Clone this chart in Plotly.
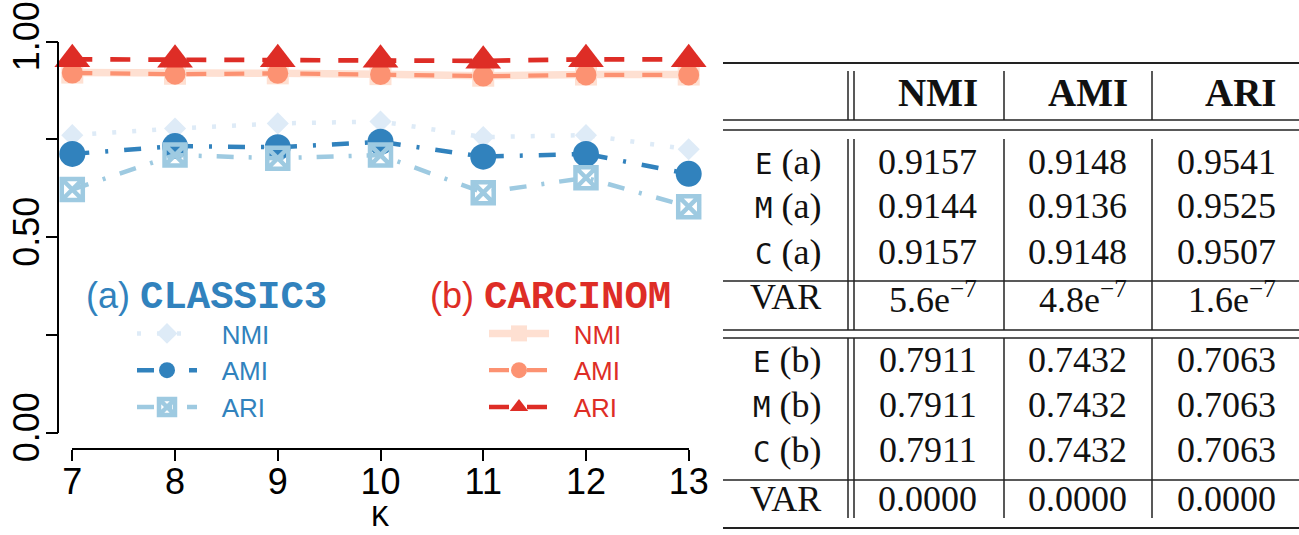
import plotly.graph_objects as go

# ---- data -------------------------------------------------------------
K = [7, 8, 9, 10, 11, 12, 13]

classic3_nmi = [0.761, 0.778, 0.791, 0.796, 0.756, 0.761, 0.725]
classic3_ami = [0.713, 0.733, 0.730, 0.744, 0.706, 0.713, 0.662]
classic3_ari = [0.622, 0.710, 0.702, 0.710, 0.614, 0.652, 0.578]

carcinom_nmi = [0.921, 0.918, 0.919, 0.917, 0.913, 0.916, 0.916]
carcinom_ami = [0.920, 0.917, 0.919, 0.916, 0.912, 0.915, 0.915]
carcinom_ari = [0.955, 0.954, 0.955, 0.954, 0.951, 0.955, 0.955]

y_tickvals = [0, 0.25, 0.5, 0.75, 1.0]
y_ticktext = ["0.00", " ", "0.50", " ", "1.00"]

table_header = ["NMI", "AMI", "ARI"]
table_row_method = ["E", "M", "C", "VAR", "E", "M", "C", "VAR"]
table_row_set = ["a", "a", "a", None, "b", "b", "b", None]
table_nmi = ["0.9157", "0.9144", "0.9157", "5.6e<sup>−7</sup>",
             "0.7911", "0.7911", "0.7911", "0.0000"]
table_ami = ["0.9148", "0.9136", "0.9148", "4.8e<sup>−7</sup>",
             "0.7432", "0.7432", "0.7432", "0.0000"]
table_ari = ["0.9541", "0.9525", "0.9507", "1.6e<sup>−7</sup>",
             "0.7063", "0.7063", "0.7063", "0.0000"]

# ---- layout helpers (pixel -> paper) ----------------------------------
W, H = 1299, 535


def px(x):
    return x / W


def py(y):
    return 1 - y / H


BLUE_NMI, BLUE_AMI, BLUE_ARI = "#deebf7", "#3182bd", "#9ecae1"
RED_NMI, RED_AMI, RED_ARI = "#fee0d2", "#fc9272", "#de2d26"
SANS = "Liberation Sans, Arial, sans-serif"
MONO = "Courier New, Courier, Nimbus Mono PS, FreeMono, Liberation Mono, monospace"
SERIF = "Liberation Serif, Times New Roman, serif"
PAD = "\u00a0\u00a0\u2009"  # gap between legend sample and legend text

fig = go.Figure()

common = dict(x=K, mode="lines+markers", cliponaxis=False)

fig.add_trace(go.Scatter(
    y=classic3_nmi, name=PAD + "NMI", legend="legend",
    line=dict(color=BLUE_NMI, width=4.5, dash="4px,16px"),
    marker=dict(symbol="diamond", size=17, color=BLUE_NMI), **common))
fig.add_trace(go.Scatter(
    y=classic3_ami, name=PAD + "AMI", legend="legend",
    line=dict(color=BLUE_AMI, width=4.5, dash="17px,16px,3px,16px"),
    marker=dict(symbol="circle", size=26, color=BLUE_AMI), **common))
fig.add_trace(go.Scatter(
    y=classic3_ari, name=PAD + "ARI", legend="legend",
    line=dict(color=BLUE_ARI, width=4.5, dash="17px,15px,3px,15px"),
    marker=dict(symbol="square-x-open", size=21, color=BLUE_ARI,
                line=dict(width=4.5, color=BLUE_ARI)), **common))

fig.add_trace(go.Scatter(
    y=carcinom_nmi, name=PAD + "NMI", legend="legend2",
    line=dict(color=RED_NMI, width=7.5),
    marker=dict(symbol="square", size=22, color=RED_NMI), **common))
fig.add_trace(go.Scatter(
    y=carcinom_ami, name=PAD + "AMI", legend="legend2",
    line=dict(color=RED_AMI, width=4.3, dash="20px,18px"),
    marker=dict(symbol="circle", size=21, color=RED_AMI), **common))
fig.add_trace(go.Scatter(
    y=carcinom_ari, name=PAD + "ARI", legend="legend2",
    line=dict(color=RED_ARI, width=4.7, dash="20px,18px"),
    marker=dict(symbol="triangle-up", size=31, color=RED_ARI), **common))

shapes = []
annotations = []

# legend group titles
annotations.append(dict(
    xref="paper", yref="paper", x=px(84), y=py(297), xanchor="left", yanchor="middle",
    showarrow=False,
    text=("(a) <span style='font-family:Courier New, Liberation Mono;font-weight:bold;"
          "font-size:39px'>CLASSIC3</span>"),
    font=dict(family=SANS, size=36, color=BLUE_AMI)))
annotations.append(dict(
    xref="paper", yref="paper", x=px(428), y=py(297), xanchor="left", yanchor="middle",
    showarrow=False,
    text=("(b) <span style='font-family:Courier New, Liberation Mono;font-weight:bold;"
          "font-size:39px'>CARCINOM</span>"),
    font=dict(family=SANS, size=36, color=RED_ARI)))

# x-axis title
annotations.append(dict(
    xref="paper", yref="paper", x=px(380), y=py(518), xanchor="center",
    yanchor="middle", showarrow=False, text="K", borderpad=0,
    font=dict(family=MONO, size=30, color="black")))

# ---- table --------------------------------------------------------------
RULE = "#222222"
T_LEFT, T_RIGHT = 723, W
for y0, w in [(63, 2.0), (120, 1.5), (130, 1.5), (281, 1.5),
              (330, 1.5), (338, 1.5), (480, 1.5), (528, 2.0)]:
    shapes.append(dict(type="line", xref="paper", yref="paper",
                       x0=px(T_LEFT), x1=px(T_RIGHT), y0=py(y0), y1=py(y0),
                       line=dict(color=RULE, width=w)))

v_segments = [(71, 120), (139, 281), (281, 330), (338, 480), (480, 518)]
for xv in [848, 854, 1004, 1152]:
    for a, b in v_segments:
        shapes.append(dict(type="line", xref="paper", yref="paper",
                           x0=px(xv), x1=px(xv), y0=py(a), y1=py(b),
                           line=dict(color=RULE, width=1.5)))

col_right = [978, 1128, 1277]
label_right = 822
header_y = 93
row_y = [161.5, 206.5, 252, 297, 360, 405, 450, 499]

for xr, h in zip(col_right, table_header):
    annotations.append(dict(
        xref="paper", yref="paper", x=px(xr + 2), y=py(header_y),
        xanchor="right", yanchor="middle", showarrow=False,
        text="<b>" + h + "</b>", font=dict(family=SERIF, size=39, color="#111")))

for i, yy in enumerate(row_y):
    m, s = table_row_method[i], table_row_set[i]
    if s is None:
        lbl = m
    else:
        lbl = ("<span style='font-family:DejaVu Sans Mono;font-size:29px'>"
               + m + "</span>\u00a0(" + s + ")")
    annotations.append(dict(
        xref="paper", yref="paper", x=px(label_right + 1), y=py(yy),
        xanchor="right", yanchor="middle", showarrow=False,
        text=lbl, font=dict(family=SERIF, size=36, color="#111")))
    for xr, col in zip(col_right, [table_nmi, table_ami, table_ari]):
        annotations.append(dict(
            xref="paper", yref="paper", x=px(xr + 1), y=py(yy),
            xanchor="right", yanchor="middle", showarrow=False,
            text=col[i], font=dict(family=SERIF, size=36, color="#111")))

legend_common = dict(
    bgcolor="rgba(0,0,0,0)", borderwidth=0, itemwidth=60,
    traceorder="normal", xanchor="left", yanchor="top",
    tracegroupgap=0, itemclick=False, itemdoubleclick=False)

fig.update_layout(
    template="none",
    width=W, height=H,
    margin=dict(l=0, r=0, t=0, b=0, autoexpand=False),
    paper_bgcolor="white", plot_bgcolor="white",
    font=dict(family=SANS, color="black"),
    showlegend=True,
    legend=dict(x=px(132), y=py(310), font=dict(family=SANS, size=26, color=BLUE_AMI),
                **legend_common),
    legend2=dict(x=px(484), y=py(310), font=dict(family=SANS, size=26, color=RED_ARI),
                 **legend_common),
    xaxis=dict(
        domain=[px(72.3), px(688.7)], range=[7, 13], anchor="free",
        position=py(449), tickvals=K, ticks="outside", ticklen=11,
        tickwidth=1.5, tickcolor="black", showline=True, linewidth=1.5,
        linecolor="black", showgrid=False, zeroline=False, automargin=False,
        ticklabelstandoff=-10,
        tickfont=dict(family=SANS, size=36, color="black")),
    yaxis=dict(
        domain=[py(432.7), py(41.7)], range=[0, 1], anchor="free",
        position=px(58.3), tickvals=y_tickvals, ticktext=y_ticktext,
        tickangle=-90, ticks="outside", ticklen=12, tickwidth=1.5,
        tickcolor="black", showline=True, linewidth=1.5, linecolor="black",
        showgrid=False, zeroline=False, automargin=False,
        ticklabelstandoff=-8,
        tickfont=dict(family=SANS, size=36, color="black")),
    shapes=shapes,
    annotations=annotations,
)

fig.write_html("out.html")
